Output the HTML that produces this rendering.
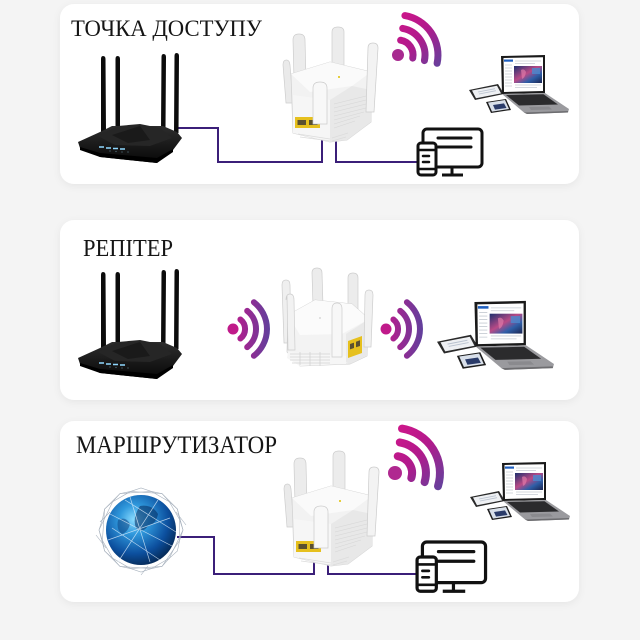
<!DOCTYPE html>
<html><head><meta charset="utf-8">
<style>
html,body{margin:0;padding:0;background:#f4f4f4;}
svg{display:block;}
</style></head>
<body>
<svg width="640" height="640" viewBox="0 0 640 640" xmlns="http://www.w3.org/2000/svg">
<defs>
  <filter id="sh" x="-10%" y="-10%" width="120%" height="130%">
    <feDropShadow dx="0" dy="2" stdDeviation="4" flood-color="#000" flood-opacity="0.06"/>
  </filter>
  <linearGradient id="wg1" gradientUnits="userSpaceOnUse" x1="390" y1="20" x2="440" y2="65">
    <stop offset="0" stop-color="#d0168a"/><stop offset="0.5" stop-color="#b01a8c"/><stop offset="1" stop-color="#66409c"/>
  </linearGradient>
  <linearGradient id="wg3" gradientUnits="userSpaceOnUse" x1="387" y1="435" x2="442" y2="486">
    <stop offset="0" stop-color="#d0168a"/><stop offset="0.5" stop-color="#b01a8c"/><stop offset="1" stop-color="#66409c"/>
  </linearGradient>
  <linearGradient id="wg2a" gradientUnits="userSpaceOnUse" x1="228" y1="0" x2="270" y2="0">
    <stop offset="0" stop-color="#c8168a"/><stop offset="1" stop-color="#60409c"/>
  </linearGradient>
  <linearGradient id="wg2b" gradientUnits="userSpaceOnUse" x1="381" y1="0" x2="423" y2="0">
    <stop offset="0" stop-color="#c8168a"/><stop offset="1" stop-color="#60409c"/>
  </linearGradient>
  <radialGradient id="globe" cx="0.4" cy="0.35" r="0.7">
    <stop offset="0" stop-color="#8adcff"/>
    <stop offset="0.3" stop-color="#2f98dc"/>
    <stop offset="0.7" stop-color="#0c4f9e"/>
    <stop offset="1" stop-color="#05264f"/>
  </radialGradient>
  <linearGradient id="photo" x1="0" y1="0" x2="1" y2="1">
    <stop offset="0" stop-color="#1c2f6e"/><stop offset="0.45" stop-color="#b94a86"/><stop offset="0.7" stop-color="#2f5fa8"/><stop offset="1" stop-color="#1a2450"/>
  </linearGradient>
  <linearGradient id="rbody" x1="0" y1="0" x2="0" y2="1">
    <stop offset="0" stop-color="#2e2e2e"/><stop offset="1" stop-color="#070707"/>
  </linearGradient>

  <!-- black router (panel 1 coords) -->
  <g id="router">
    <path d="M101 132 L101 59 Q101 56 103 56 Q105.5 56 105.5 59 L106 132 Z" fill="#0b0b0b"/>
    <path d="M115.5 130 L115.5 59 Q115.5 56 117.5 56 Q120 56 120 59 L120 130 Z" fill="#0b0b0b"/>
    <path d="M161 130 L161.5 57 Q161.5 54 163.5 54 Q166 54 166 57 L165.5 130 Z" fill="#0b0b0b"/>
    <path d="M174 133 L174.5 56 Q174.5 53 176.5 53 Q179 53 179 56 L178.5 133 Z" fill="#0b0b0b"/>
    <path d="M78 142 L100 132 L112 126 L163 126 L177 132 L182 138 L173 150 L157 163 L100 157 L80 148 Z" fill="url(#rbody)"/>
    <path d="M98 136 L118 126 L140 124 L160 128 L172 138 L150 146 L115 145 Z" fill="#262626"/>
    <path d="M112 135 L140 126 L150 140 L128 143 Z" fill="#1a1a1a"/>
    <path d="M80 147 L100 153 L157 158 L173 149 L173 152 L157 163 L100 157 L80 150 Z" fill="#000"/>
    <g stroke="#8fd8ff" stroke-width="1.6">
      <path d="M99 147 H104 M106 148 H111 M113 148.5 H118 M120 149 H125"/>
    </g>
    <g fill="#5a7a8a"><circle cx="110" cy="151" r="0.6"/><circle cx="116" cy="151.5" r="0.6"/><circle cx="122" cy="152" r="0.6"/><circle cx="128" cy="152" r="0.6"/></g>
  </g>

  <!-- repeater, 3/4 view (panel 1 coords) -->
  <g id="rep">
    <path d="M294 80 L293 40 Q293 34 299 34 Q305 34 305 40 L306 80 Z" fill="#ececec" stroke="#cdcdcd" stroke-width="0.7"/>
    <path d="M332 66 L332 32 Q332 27 338 27 Q344 27 344 32 L344 66 Z" fill="#ececec" stroke="#cdcdcd" stroke-width="0.7"/>
    <path d="M286 103 L283 65 Q283 60 286.5 60 Q289.5 60 290 65 L293 103 Z" fill="#eaeaea" stroke="#cdcdcd" stroke-width="0.7"/>
    <path d="M291 74 L330 62 L371 72 L371 122 L347 140 L330 142 L293 133 Z" fill="#f2f2f2" stroke="#d3d3d3" stroke-width="0.8"/>
    <path d="M291 74 L330 62 L371 72 L352 86 L310 92 Z" fill="#fafafa"/>
    <path d="M293 95 L330 100 L330 142 L293 133 Z" fill="#f6f6f6"/>
    <path d="M330 100 L352 86 L371 90 L371 122 L347 140 L330 142 Z" fill="#e8e8e8"/>
    <g stroke="#d6d6d6" stroke-width="0.6">
      <path d="M334 104 L366 96 M334 108 L366 100 M334 112 L366 104 M334 116 L366 108 M334 120 L364 112 M334 124 L360 116 M334 128 L355 121"/>
    </g>
    <g stroke="#dcdcdc" stroke-width="0.8">
      <path d="M298 134 L330 139 M300 137 L330 141 M332 138 L348 133 M332 141 L346 137"/>
    </g>
    <rect x="295" y="117" width="25" height="11" fill="#e6c01e"/>
    <rect x="297.5" y="120" width="8.5" height="5" fill="#5a5030"/>
    <rect x="309" y="120" width="8.5" height="5" fill="#5a5030"/>
    <path d="M313 124 L313 88 Q313 82 320 82 Q327 82 327 88 L327 124 Z" fill="#f8f8f8" stroke="#cbcbcb" stroke-width="0.7"/>
    <path d="M366 112 L368 48 Q368 43 373 43 Q378 43 378 48 L374 112 Z" fill="#f3f3f3" stroke="#cbcbcb" stroke-width="0.7"/>
    <circle cx="339" cy="77" r="1" fill="#e0c000"/>
  </g>

  <!-- laptop cluster, local coords -->
  <g id="laptop">
    <path d="M0 34 L29 28 L35 38 L6 44 Z" fill="#2a2a2a"/>
    <path d="M3 34.5 L28 29.7 L32 37.4 L7 42.2 Z" fill="#eef0f3"/>
    <path d="M9 36 L26 32.7 M10 38 L27 34.7" stroke="#b9c2cf" stroke-width="0.8"/>
    <path d="M32 0 L76 -1 L76 37 L33 38 Z" fill="#1a1a1a"/>
    <path d="M34.5 2 L74 1.2 L74 35 L35 36 Z" fill="#ffffff"/>
    <rect x="35" y="3.5" width="9" height="2.2" fill="#1f5fbf"/>
    <g stroke="#c6cbd3" stroke-width="0.7">
      <path d="M36 9 H43 M36 12 H43 M36 15 H43 M36 18 H43 M36 21 H43 M36 24 H43 M36 27 H43 M36 30 H43"/>
      <path d="M46 5 H72 M46 7.5 H66"/>
    </g>
    <rect x="45" y="10" width="28" height="17" fill="url(#photo)"/>
    <path d="M52 14 q3 -2 5 2 q-1 6 -4 7 z" fill="#e07aa8" opacity="0.7"/>
    <path d="M63 12 h8 v6 h-8 z" fill="#4a8ad0" opacity="0.8"/>
    <path d="M46 29 H72 M46 31.5 H68" stroke="#c6cbd3" stroke-width="0.7"/>
    <path d="M33 38 L76 37 L100 53 L99 56.5 L58 58 L55 56.5 Z" fill="#9a9a9e"/>
    <path d="M37 39 L74.5 38.3 L89 48.5 L50 49.5 Z" fill="#2b2b2d"/>
    <path d="M60 51 L80 50.6 L83 53.5 L62 54 Z" fill="#8a8a8e"/>
    <path d="M55 56.5 L99 55 L99 56.5 L58 58 Z" fill="#6d6d70"/>
    <path d="M17 46 L37 43 L42 54 L22 57 Z" fill="#1e1e1e"/>
    <path d="M19 46.6 L36 44 L40 53 L23 55.6 Z" fill="#d9e0ea"/>
    <path d="M24 49 L35 47.4 L37.5 52 L26 53.6 Z" fill="#2b3c6a"/>
  </g>

  <!-- device icon, local coords -->
  <g id="dev" fill="none" stroke="#111" stroke-width="3" stroke-linecap="round">
    <rect x="6" y="0" width="59" height="38" rx="4" fill="#fff"/>
    <path d="M21 9 H54 M21 18 H54"/>
    <path d="M35 38 V46 M25 46 H46" stroke-linecap="butt"/>
    <rect x="1" y="14" width="18" height="32" rx="3" fill="#fff"/>
    <path d="M1 21 H19 M1 40 H19" stroke-width="2.5"/>
    <path d="M6 27 H12 M6 33 H12" stroke-width="2.5"/>
  </g>
</defs>

<rect width="640" height="640" fill="#f4f4f4"/>

<!-- panels -->
<rect x="60" y="4" width="519" height="180" rx="14" fill="#fff" filter="url(#sh)"/>
<rect x="60" y="220" width="519" height="180" rx="14" fill="#fff" filter="url(#sh)"/>
<rect x="60" y="421" width="519" height="181" rx="14" fill="#fff" filter="url(#sh)"/>

<!-- titles -->
<g font-family="'Liberation Serif', 'Noto Serif CJK SC', serif" fill="#151515">
  <text x="71" y="36" font-size="23" textLength="191" lengthAdjust="spacingAndGlyphs">ТОЧКА ДОСТУПУ</text>
  <text x="83" y="256" font-size="24" textLength="90" lengthAdjust="spacingAndGlyphs">РЕПІТЕР</text>
  <text x="76" y="453" font-size="25" textLength="201" lengthAdjust="spacingAndGlyphs">МАРШРУТИЗАТОР</text>
</g>

<!-- ===== Panel 1 ===== -->
<g fill="none" stroke="#3b1f79" stroke-width="2">
  <path d="M178 128 H218 V162 H322 V128"/>
  <path d="M336 128 V162 H417"/>
</g>
<use href="#router"/>
<use href="#rep"/>
<g fill="none" stroke="url(#wg1)" stroke-width="7" stroke-linecap="round">
  <path d="M400.6 40.2 A15 15 0 0 1 412.7 58.1"/>
  <path d="M402.7 28.4 A27 27 0 0 1 424.4 60.6"/>
  <path d="M404.9 15.6 A40 40 0 0 1 437.1 63.3"/>
</g>
<circle cx="398" cy="55" r="6" fill="#a82a90"/>
<use href="#laptop" transform="translate(469,56)"/>
<use href="#dev" transform="translate(417,129)"/>

<!-- ===== Panel 2 ===== -->
<use href="#router" transform="translate(0,216)"/>
<g fill="none" stroke="url(#wg2a)" stroke-width="6" stroke-linecap="round">
  <path d="M240.4 319.5 A12 12 0 0 1 240.4 338.5"/>
  <path d="M247.2 310.9 A23 23 0 0 1 247.2 347.1"/>
  <path d="M253.9 302.2 A34 34 0 0 1 253.9 355.8"/>
</g>
<circle cx="233" cy="329" r="5.5" fill="#c01a8a"/>
<g fill="none" stroke="url(#wg2b)" stroke-width="6" stroke-linecap="round">
  <path d="M393.4 319.5 A12 12 0 0 1 393.4 338.5"/>
  <path d="M400.2 310.9 A23 23 0 0 1 400.2 347.1"/>
  <path d="M406.9 302.2 A34 34 0 0 1 406.9 355.8"/>
</g>
<circle cx="386" cy="329" r="5.5" fill="#c01a8a"/>

<!-- repeater front view -->
<g stroke="#cdcdcd" stroke-width="0.7">
  <path d="M313 306 L312 273 Q312 268 317 268 Q322 268 322 273 L323 306 Z" fill="#ececec"/>
  <path d="M348 310 L348 278 Q348 273 353 273 Q358 273 358 278 L358 310 Z" fill="#ececec"/>
  <path d="M284 343 L282 285 Q282 280 286 280 Q290 280 290 285 L291 343 Z" fill="#efefef"/>
  <path d="M288 315 L315 300 L352 304 L369 319 L367 356 L350 364 L300 366 L287 352 Z" fill="#f3f3f3"/>
  <path d="M288 315 L315 300 L352 304 L369 319 L342 334 L300 335 Z" fill="#fbfbfb" stroke="none"/>
  <path d="M346 334 L369 319 L367 356 L350 364 L346 362 Z" fill="#e9e9e9" stroke="none"/>
  <path d="M288 352 L346 356 L346 364 L300 366 L287 358 Z" fill="#f6f6f6" stroke="none"/>
  <path d="M287 296 L286 300 Q286 294 290 294 Q294 294 294 300 L295 350 L288 350 Z" fill="#f2f2f2"/>
  <path d="M332 357 L332 309 Q332 303 337 303 Q342 303 342 309 L342 357 Z" fill="#f7f7f7"/>
  <path d="M364 347 L365 295 Q365 290 369 290 Q373 290 373 295 L371 347 Z" fill="#f1f1f1"/>
</g>
<g stroke="#d4d4d4" stroke-width="0.8">
  <path d="M290 354 H330 M290 357 H330 M290 360 H330 M292 363 H330"/>
  <path d="M300 352 V365 M310 352 V366 M320 352 V366"/>
</g>
<path d="M348 341 L362 336 L362 353 L348 358 Z" fill="#e6c01e"/>
<path d="M350 344 L354 342.6 L354 348 L350 349.4 Z M356 341.7 L360 340.3 L360 346 L356 347.3 Z" fill="#5a5030"/>
<circle cx="320" cy="318" r="0.9" fill="#cfcfcf"/>

<use href="#laptop" transform="translate(437,302) scale(1.17)"/>

<!-- ===== Panel 3 ===== -->
<g fill="none" stroke="#3b1f79" stroke-width="2">
  <path d="M177 537 H214 V574 H314 V552"/>
  <path d="M328 552 V574 H417"/>
</g>

<!-- globe -->
<g>
  <g fill="none" stroke="#a7b1bd" stroke-width="0.6">
    <path d="M183 530 L179.6 540.4 L177.4 551 L169.3 558.3 L162 566.4 L151.4 568.6 L141 572 L130.6 568.6 L120 566.4 L112.7 558.3 L104.6 551 L102.4 540.4 L99 530 L102.4 519.6 L104.6 509 L112.7 501.7 L120 493.6 L130.6 491.4 L141 488 L151.4 491.4 L162 493.6 L169.3 501.7 L177.4 509 L179.6 519.6 Z"/>
    <path d="M183 530 L169.3 558.3 L151.4 568.6 L120 566.4 L104.6 551 L99 530 L112.7 501.7 L130.6 491.4 L162 493.6 L177.4 509 Z"/>
    <path d="M179.6 540.4 L162 566.4 L130.6 568.6 L112.7 558.3 L102.4 540.4 L104.6 509 L120 493.6 L151.4 491.4 L169.3 501.7 L179.6 519.6 Z"/>
    <path d="M186 525 L176 512 M96 535 L106 548 M141 575 L148 566 M100 522 L110 512"/>
  </g>
  <circle cx="141" cy="530" r="35" fill="url(#globe)"/>
  <path d="M140 506 q12 -2 18 8 q-2 10 -10 12 q-6 8 -12 2 q-4 -10 4 -22z" fill="#062a5c" opacity="0.55"/>
  <path d="M118 520 q8 -4 12 4 q-2 8 -8 10 q-6 -4 -4 -14z" fill="#0a3a78" opacity="0.5"/>
  <g stroke="#e8f4ff" stroke-width="0.7" opacity="0.75" fill="none">
    <path d="M110 514 L172 546"/>
    <path d="M118 562 L158 500"/>
    <path d="M108 540 L170 518"/>
    <path d="M130 497 L150 562"/>
    <path d="M112 528 L160 560"/>
    <path d="M125 500 L176 532"/>
  </g>
</g>

<use href="#rep" transform="translate(1,424)"/>
<g fill="none" stroke="url(#wg3)" stroke-width="8" stroke-linecap="round">
  <path d="M397.7 456.2 A17 17 0 0 1 411.3 478"/>
  <path d="M399.8 442.4 A31 31 0 0 1 424.6 482.1"/>
  <path d="M402 428.6 A45 45 0 0 1 438 486.2"/>
</g>
<circle cx="395" cy="473" r="7" fill="#b02890"/>
<use href="#laptop" transform="translate(470,463)"/>
<use href="#dev" transform="translate(416,542) scale(1.07)"/>
</svg>
</body></html>
